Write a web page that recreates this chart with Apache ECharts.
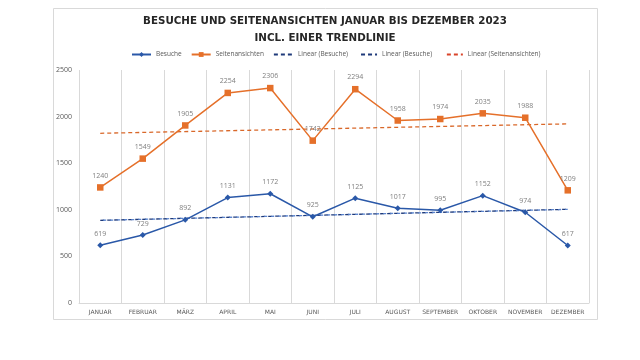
<!DOCTYPE html>
<html><head><meta charset="utf-8">
<script src="https://cdn.jsdelivr.net/npm/echarts@6/dist/echarts.min.js"></script>
<style>html,body{margin:0;padding:0;background:#fff}#c{width:640px;height:360px}</style>
</head><body><div id="c"></div>
<script>
const months = ['JANUAR','FEBRUAR','MÄRZ','APRIL','MAI','JUNI','JULI','AUGUST','SEPTEMBER','OKTOBER','NOVEMBER','DEZEMBER'];
const besuche = [619,729,892,1131,1172,925,1125,1017,995,1152,974,617];
const seitenansichten = [1240,1549,1905,2254,2306,1742,2294,1958,1974,2035,1988,1209];
// trend line endpoints (January, December)
const trendBesuche = [887,null,null,null,null,null,null,null,null,null,null,1005];
const trendSeiten = [1821,null,null,null,null,null,null,null,null,null,null,1922];
const yTicks = {min:0,max:2500,interval:500};

const grey = '#595959';
const chart = echarts.init(document.getElementById('c'));
const hideSym = {opacity:0};
chart.setOption({
  backgroundColor:'#fff',
  animation:false,
  graphic:[{type:'rect',shape:{x:53.5,y:8.5,width:544,height:311},style:{fill:'none',stroke:'#D9D9D9',lineWidth:1},silent:true,z:-1}],
  title:{
    text:'BESUCHE UND SEITENANSICHTEN JANUAR BIS DEZEMBER 2023\nINCL. EINER TRENDLINIE',
    left:320, textAlign:'center', top:8,
    textStyle:{fontFamily:'DejaVu Sans',fontWeight:'bold',fontSize:10.3,color:'#262626',lineHeight:17}
  },
  legend:{
    top:46, left:126,
    itemWidth:19, itemHeight:6, itemGap:9,
    textStyle:{fontFamily:'Open Sans',fontSize:6.5,color:grey},
    data:[
      {name:'Besuche'},
      {name:'Seitenansichten'},
      {name:'Linear (Besuche)',itemStyle:hideSym},
      {name:'Linear (Besuche) ',itemStyle:hideSym,lineStyle:{color:'#1F3A7A',type:[4,3]}},
      {name:'Linear (Seitenansichten)',itemStyle:hideSym,lineStyle:{color:'#D9452A'}}
    ]
  },
  grid:{left:79,right:51,top:70,bottom:57},
  xAxis:{
    type:'category', data:months, boundaryGap:true,
    axisLine:{lineStyle:{color:'#D9D9D9'}},
    axisTick:{show:false,interval:0},
    splitLine:{show:true,interval:0,lineStyle:{color:'#D9D9D9'}},
    axisLabel:{interval:0,fontFamily:'DejaVu Sans',fontSize:6,color:grey,margin:6}
  },
  yAxis:{
    type:'value', min:yTicks.min, max:yTicks.max, interval:yTicks.interval,
    axisLine:{show:false}, axisTick:{show:false}, splitLine:{show:false},
    axisLabel:{fontFamily:'Open Sans',fontSize:7,color:grey,margin:7,formatter:v=>String(v)}
  },
  series:[
    {name:'Besuche',type:'line',data:besuche,color:'#2A58A8',symbol:'diamond',symbolSize:6,
     lineStyle:{width:1.5},
     label:{show:true,position:'top',distance:5,fontFamily:'Open Sans',fontSize:7,color:'#7F7F7F'},z:3},
    {name:'Seitenansichten',type:'line',data:seitenansichten,color:'#E5702A',symbol:'rect',symbolSize:6.5,
     lineStyle:{width:1.5},
     label:{show:true,position:'top',distance:5,fontFamily:'Open Sans',fontSize:7,color:'#7F7F7F'},z:3},
    {name:'Linear (Besuche)',type:'line',data:trendBesuche,connectNulls:true,symbol:'none',color:'#1F3A7A',
     lineStyle:{width:1.3,type:[4,3]},z:2},
    {name:'Linear (Besuche) ',type:'line',data:trendBesuche,connectNulls:true,symbol:'none',color:'#1F3A7A',
     lineStyle:{width:1.3,type:[3,4],dashOffset:4,color:'#5B85CF'},z:2},
    {name:'Linear (Seitenansichten)',type:'line',data:trendSeiten,connectNulls:true,symbol:'none',color:'#D9452A',
     lineStyle:{width:1.3,type:[4,3],color:'#D9682A'},z:2}
  ]
});
</script></body></html>
